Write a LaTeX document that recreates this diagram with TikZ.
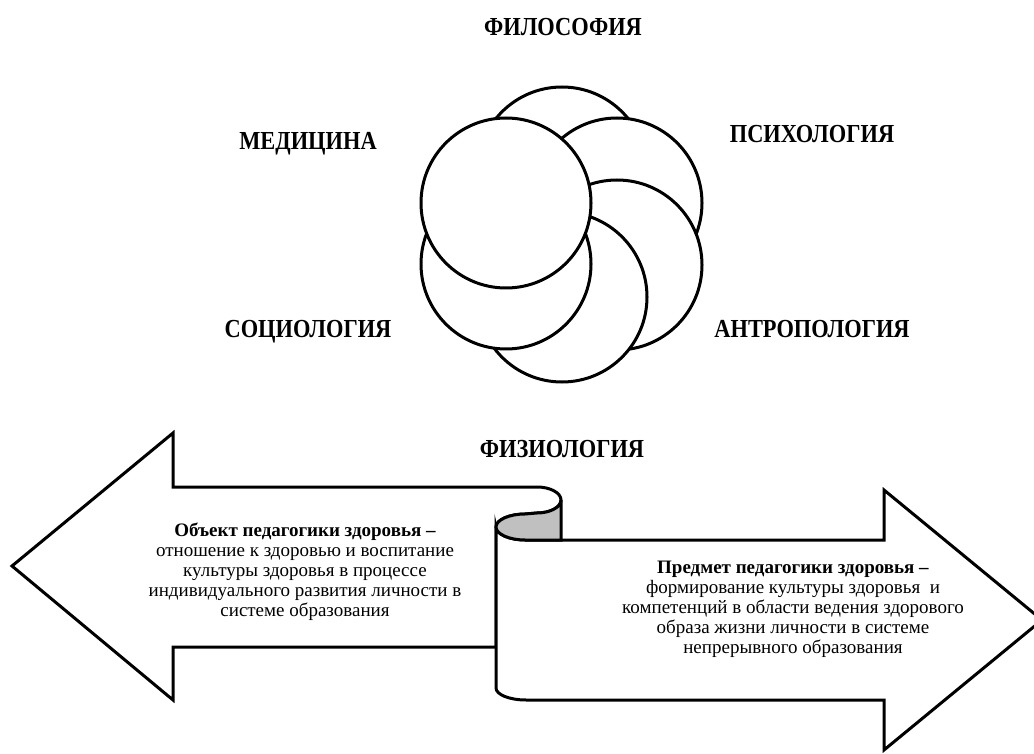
\documentclass[tikz,border=0pt]{standalone}
\usepackage{fontspec}
\setmainfont{Liberation Serif}
\definecolor{curlgray}{RGB}{192,192,192}
\newcommand{\tallcap}[1]{\scalebox{1}[1.16]{#1}}

\begin{document}
\begin{tikzpicture}[x=0.5pt, y=-0.5pt, line width=1.5pt,
    ring/.style={draw, fill=white},
    field/.style={anchor=base, font=\fontsize{11.2}{13}\selectfont\bfseries},
    note/.style={align=center, font=\fontsize{9.5}{10}\selectfont}]
    \useasboundingbox (0,0) rectangle (1034,754);

    % Circles, from back to front
    \draw[ring] (562,172) circle[radius=85];
    \draw[ring] (617,203) circle[radius=85];
    \draw[ring] (617,265) circle[radius=85];
    \draw[ring] (562,297) circle[radius=85];
    \draw[ring] (506,264) circle[radius=85];
    \draw[ring] (506,203) circle[radius=85];

    % Sciences
    \node[field] (phil) at (563,36) {\tallcap{ФИЛОСОФИЯ}};
    \node[field] (med) at (308,150) {\tallcap{МЕДИЦИНА}};
    \node[field] (psy) at (812,143) {\tallcap{ПСИХОЛОГИЯ}};
    \node[field] (soc) at (308,337) {\tallcap{СОЦИОЛОГИЯ}};
    \node[field] (anth) at (812,337) {\tallcap{АНТРОПОЛОГИЯ}};
    \node[field] (phys) at (562,457) {\tallcap{ФИЗИОЛОГИЯ}};

    % Left arrow
    \draw[fill=white] (561,500) .. controls (561,492.8) and (550.2,487) .. (537,487)
        -- (173,487) -- (173,433) -- (12,566) -- (173,700) -- (173,647) -- (496,647)
        -- (496,527) .. controls (496,519.8) and (509.5,514) .. (525,514) -- (537,513)
        .. controls (550.2,513) and (561,507.2) .. (561,500) -- cycle;

    % Right arrow
    \draw[fill=white] (496,527) .. controls (496,534.2) and (509.5,540) .. (525,540)
        -- (884,540) -- (884,490) -- (1042,620) -- (884,750) -- (884,700) -- (526,700)
        .. controls (509.4,700) and (496,694.6) .. (496,688) -- cycle;

    % Curl
    \draw[fill=curlgray] (561,500) .. controls (561,507.2) and (550.2,513) .. (537,513)
        -- (525,514) .. controls (509.5,514) and (496,519.8) .. (496,527)
        .. controls (496,534.2) and (509.5,540) .. (525,540) -- (561,540) -- cycle;

    % Texts
    \node[note] (obj) at (305,572) {\textbf{Объект педагогики здоровья –}\\
        отношение к здоровью и воспитание\\
        культуры здоровья в процессе\\
        индивидуального развития личности в\\
        системе образования};
    \node[note] (subj) at (793,609) {\textbf{Предмет педагогики здоровья –}\\
        формирование культуры здоровья\ \ и\\
        компетенций в области ведения здорового\\
        образа жизни личности в системе\\
        непрерывного образования};
\end{tikzpicture}
\end{document}
